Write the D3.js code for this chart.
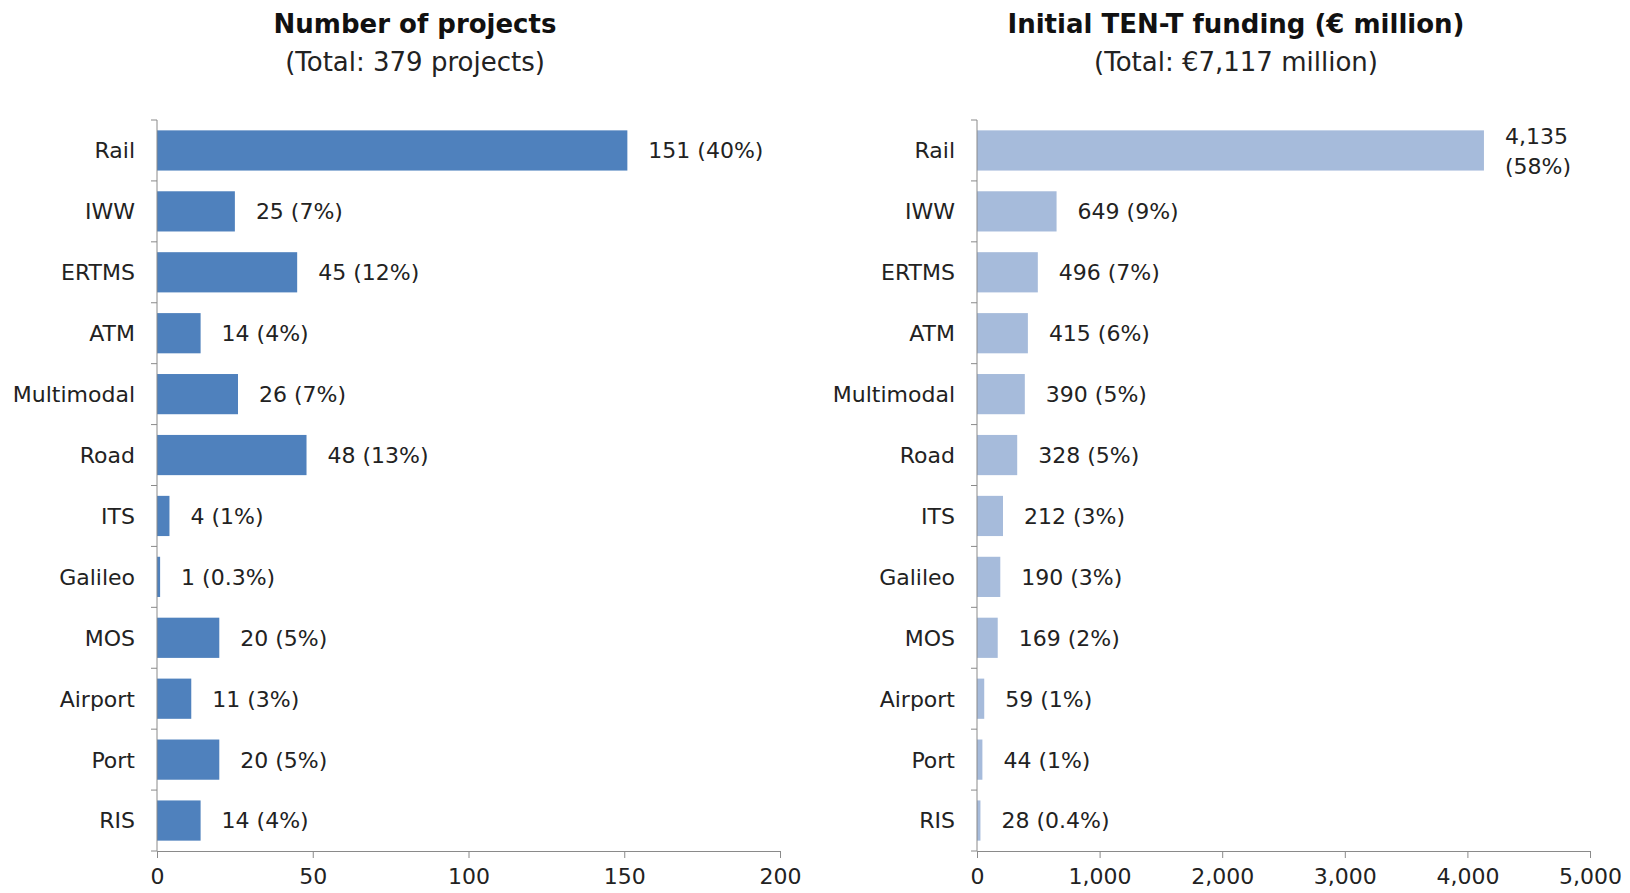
<!DOCTYPE html>
<html>
<head>
<meta charset="utf-8">
<script src="https://cdn.jsdelivr.net/npm/d3@7"></script>
<style>
  body { margin: 0; background: #fff; }
  text { font-family: "DejaVu Sans", sans-serif; fill: #222; }
  .axis path, .axis line { stroke: #8a8a8a; }
</style>
</head>
<body>
<div id="chart"></div>
<script>
// Categories, top to bottom
var categories = ["Rail", "IWW", "ERTMS", "ATM", "Multimodal", "Road", "ITS", "Galileo", "MOS", "Airport", "Port", "RIS"];

// Number of projects and their share
var projects = [151, 25, 45, 14, 26, 48, 4, 1, 20, 11, 20, 14];
var projectShares = ["40%", "7%", "12%", "4%", "7%", "13%", "1%", "0.3%", "5%", "3%", "5%", "4%"];

// Initial TEN-T funding (EUR million) and its share
var funding = [4135, 649, 496, 415, 390, 328, 212, 190, 169, 59, 44, 28];
var fundingShares = ["58%", "9%", "7%", "6%", "5%", "5%", "3%", "3%", "2%", "1%", "1%", "0.4%"];

// Tick values for each x axis
var projectTicks = [0, 50, 100, 150, 200];
var fundingTicks = [0, 1000, 2000, 3000, 4000, 5000];

var W = 1630, H = 893;
var plotTop = 120, plotBottom = 851;

var svg = d3.select("#chart").append("svg")
    .attr("width", W)
    .attr("height", H);

function drawPanel(opt) {
    var x = d3.scaleLinear()
        .domain([0, d3.max(opt.ticks)])
        .range([opt.x0, opt.x1]);

    var y = d3.scaleBand()
        .domain(categories)
        .range([plotTop, plotBottom])
        .paddingInner(0.34)
        .paddingOuter(0.17);

    var g = svg.append("g");

    // Titles
    g.append("text")
        .attr("x", opt.cx)
        .attr("y", 33)
        .attr("text-anchor", "middle")
        .style("font-size", "26px")
        .style("font-weight", "bold")
        .style("fill", "#111")
        .text(opt.title);

    g.append("text")
        .attr("x", opt.cx)
        .attr("y", 71)
        .attr("text-anchor", "middle")
        .style("font-size", "26px")
        .text(opt.subtitle);

    // Bars
    g.selectAll("rect")
        .data(opt.values)
        .enter()
        .append("rect")
        .attr("x", x(0))
        .attr("y", function(d, i) { return y(categories[i]); })
        .attr("width", function(d) { return x(d) - x(0); })
        .attr("height", y.bandwidth())
        .style("fill", opt.color);

    // Value labels, wrapped onto two lines when there is no room
    var labels = g.selectAll(".val")
        .data(opt.values)
        .enter()
        .append("text")
        .attr("class", "val")
        .style("font-size", "22px")
        .attr("x", function(d) { return x(d) + 21; })
        .attr("y", function(d, i) { return y(categories[i]) + y.bandwidth() / 2; })
        .attr("dy", "0.36em")
        .text(function(d, i) { return d3.format(",")(d) + " (" + opt.shares[i] + ")"; });

    labels.each(function(d, i) {
        var t = d3.select(this);
        var bx = x(d) + 21;
        if (bx + this.getComputedTextLength() > W - 4) {
            var cy = y(categories[i]) + y.bandwidth() / 2;
            t.text(null).attr("dy", null);
            t.append("tspan").attr("x", bx).attr("y", cy - 6).text(d3.format(",")(d));
            t.append("tspan").attr("x", bx).attr("y", cy + 24).text("(" + opt.shares[i] + ")");
        }
    });

    // Category axis, ticks on band edges
    var yAxis = g.append("g").attr("class", "axis");
    yAxis.append("line")
        .attr("x1", x(0)).attr("x2", x(0))
        .attr("y1", plotTop).attr("y2", plotBottom);
    var edges = categories.map(function(c) { return y(c) - y.step() * 0.17; }).concat([plotBottom]);
    yAxis.selectAll(".edge")
        .data(edges)
        .enter()
        .append("line")
        .attr("x1", x(0) - 6).attr("x2", x(0))
        .attr("y1", function(d) { return d; })
        .attr("y2", function(d) { return d; });

    g.selectAll(".cat")
        .data(categories)
        .enter()
        .append("text")
        .attr("class", "cat")
        .attr("x", x(0) - 22)
        .attr("y", function(d) { return y(d) + y.bandwidth() / 2; })
        .attr("dy", "0.36em")
        .attr("text-anchor", "end")
        .style("font-size", "22px")
        .text(function(d) { return d; });

    // Value axis
    var xAxis = d3.axisBottom(x)
        .tickValues(opt.ticks)
        .tickSize(7)
        .tickSizeOuter(0)
        .tickFormat(d3.format(","));

    g.append("g")
        .attr("class", "axis")
        .attr("transform", "translate(0," + plotBottom + ")")
        .call(xAxis)
        .call(function(a) {
            a.selectAll("text")
                .attr("dy", null)
                .attr("y", 33)
                .style("font-size", "22px")
                .style("font-family", "DejaVu Sans, sans-serif")
                .style("fill", "#222");
        });
}

drawPanel({
    title: "Number of projects",
    subtitle: "(Total: 379 projects)",
    cx: 415,
    x0: 157, x1: 780,
    ticks: projectTicks,
    values: projects,
    shares: projectShares,
    color: "#4f81bd"
});

drawPanel({
    title: "Initial TEN-T funding (€ million)",
    subtitle: "(Total: €7,117 million)",
    cx: 1236,
    x0: 977, x1: 1590,
    ticks: fundingTicks,
    values: funding,
    shares: fundingShares,
    color: "#a6bbdb"
});
</script>
</body>
</html>
